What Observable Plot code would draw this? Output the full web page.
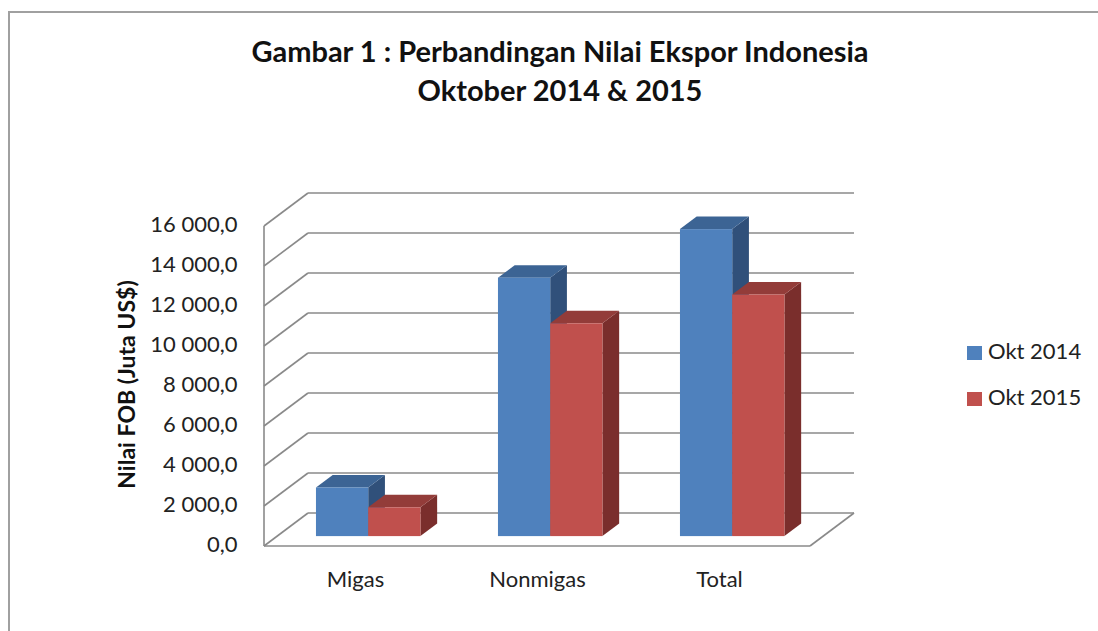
<!DOCTYPE html>
<html>
<head>
<meta charset="utf-8">
<script src="https://cdn.jsdelivr.net/npm/d3@7"></script>
<script src="https://cdn.jsdelivr.net/npm/@observablehq/plot@0.6"></script>
<style>
  html, body { margin: 0; padding: 0; background: #fff; }
  body { width: 1098px; height: 631px; overflow: hidden; position: relative; font-family: Lato, "Open Sans", sans-serif; }
  #frame { position: absolute; left: 8px; top: 11px; width: 1100px; height: 700px; border-left: 2px solid #a0a0a0; border-top: 2px solid #a0a0a0; }
  #title { position: absolute; left: 22px; top: 0; width: 1076px; height: 120px; text-align: center; font-weight: 700; font-size: 29px; color: #111; }
  #title div { position: absolute; left: 0; width: 100%; }
  #chart { position: absolute; left: 0; top: 120px; }
  #legend { position: absolute; left: 967px; top: 338px; font-size: 22px; color: #222; }
  .li { position: absolute; left: 0; white-space: nowrap; height: 26px; line-height: 26px; }
  .sw { display: inline-block; width: 15px; height: 14px; margin-right: 6px; vertical-align: -1px; }
</style>
</head>
<body>
<div id="frame"></div>
<div id="title"></div>
<div id="chart"></div>
<div id="legend"></div>
<script>
// ---- data ----
const titleLines = ["Gambar 1 : Perbandingan Nilai Ekspor Indonesia", "Oktober 2014 & 2015"];
const categories = ["Migas", "Nonmigas", "Total"];
const seriesNames = ["Okt 2014", "Okt 2015"];
const okt2014 = [2430, 12920, 15350];
const okt2015 = [1440, 10640, 12080];
const yTicks = [0, 2000, 4000, 6000, 8000, 10000, 12000, 14000, 16000];
const yLabel = "Nilai FOB (Juta US$)";

// ---- styles ----
const frontColors = ["#4F81BD", "#C0504D"];
const topColors = ["#3C6494", "#933C39"];
const sideColors = ["#30507A", "#7A2E2C"];
const gridColor = "#8a8a8a";
const DX = 44, DY = -33;          // depth vector of the 3D box (px)
const T0 = 0.3, T1 = 0.68;         // bar depth span (fraction of box depth)
const BARW = 0.287;                // bar width, fraction of band

const table = [];
categories.forEach((c, i) => {
  table.push({cat: c, series: 0, value: okt2014[i]});
  table.push({cat: c, series: 1, value: okt2015[i]});
});

const fmt = d3.formatLocale({decimal: ",", thousands: "\u00a0", grouping: [3], currency: ["", ""]}).format(",.1f");

// title
const t = document.getElementById("title");
titleLines.forEach((s, i) => {
  const d = document.createElement("div");
  d.textContent = s;
  d.style.top = (33 + i * 39) + "px";
  t.appendChild(d);
});

// legend
const lg = document.getElementById("legend");
seriesNames.forEach((s, i) => {
  const d = document.createElement("div");
  d.className = "li";
  d.style.top = (i * 46) + "px";
  d.innerHTML = `<span class="sw" style="background:${frontColors[i]}"></span>${s}`;
  lg.appendChild(d);
});

function bw(x) { return typeof x.bandwidth === "function" ? x.bandwidth() : x.bandwidth; }

// walls and gridlines (3D box)
function walls(index, scales) {
  const x = scales.x, y = scales.y;
  const [xa, xb] = [x(categories[0]), x(categories[categories.length - 1]) + bw(x)];
  const g = d3.create("svg:g").attr("fill", "none").attr("stroke", gridColor).attr("stroke-width", 1.6);
  for (const v of yTicks) {
    const yy = y(v);
    g.append("line").attr("x1", xa + DX).attr("x2", xb + DX).attr("y1", yy + DY).attr("y2", yy + DY);
    g.append("line").attr("x1", xa).attr("x2", xa + DX).attr("y1", yy).attr("y2", yy + DY);
  }
  const y0 = y(0), yTop = y(yTicks[yTicks.length - 1]);
  g.append("line").attr("x1", xa).attr("x2", xa).attr("y1", y0).attr("y2", yTop);
  g.append("line").attr("x1", xa).attr("x2", xb).attr("y1", y0).attr("y2", y0);
  g.append("line").attr("x1", xb).attr("x2", xb + DX).attr("y1", y0).attr("y2", y0 + DY);
  return g.node();
}

// 3D bars
function bars3d(index, scales) {
  const x = scales.x, y = scales.y;
  const b = bw(x), w = b * BARW;
  const g = d3.create("svg:g");
  const pts = (arr) => arr.map(p => p.join(",")).join(" ");
  for (const d of table) {
    const cx = x(d.cat) + b / 2;
    const xl = cx - w + d.series * w, xr = xl + w;
    const yv = y(d.value), y0 = y(0);
    const ax = T0 * DX, ay = T0 * DY, bx = T1 * DX, by = T1 * DY;
    g.append("polygon").attr("fill", sideColors[d.series])
      .attr("points", pts([[xr + ax, yv + ay], [xr + bx, yv + by], [xr + bx, y0 + by], [xr + ax, y0 + ay]]));
    g.append("polygon").attr("fill", topColors[d.series])
      .attr("points", pts([[xl + ax, yv + ay], [xr + ax, yv + ay], [xr + bx, yv + by], [xl + bx, yv + by]]));
    g.append("rect").attr("fill", frontColors[d.series])
      .attr("x", xl + ax).attr("y", yv + ay).attr("width", w).attr("height", y0 - yv);
  }
  return g.node();
}

const plot = Plot.plot({
  width: 1098,
  height: 511,
  marginLeft: 263,
  marginRight: 287,
  marginTop: 106,
  marginBottom: 85,
  x: {type: "band", domain: categories, padding: 0, axis: null},
  y: {domain: [0, 16000], axis: null},
  style: {fontFamily: "Lato, 'Open Sans', sans-serif", color: "#222", background: "transparent", overflow: "visible"},
  marks: [
    walls,
    bars3d,
    Plot.text(yTicks, {y: d => d, text: d => fmt(d), frameAnchor: "left", textAnchor: "end", dx: -26, dy: -2, fontSize: 22, fill: "#222"}),
    Plot.text(categories, {x: d => d, text: d => d, frameAnchor: "bottom", dy: 40, fontSize: 22, fill: "#222"}),
    Plot.text([yLabel], {text: d => d, frameAnchor: "left", textAnchor: "middle", dx: -136, dy: -2, rotate: -90, fontSize: 23, fontWeight: "bold", fill: "#111"})
  ]
});
document.getElementById("chart").appendChild(plot);
</script>
</body>
</html>
